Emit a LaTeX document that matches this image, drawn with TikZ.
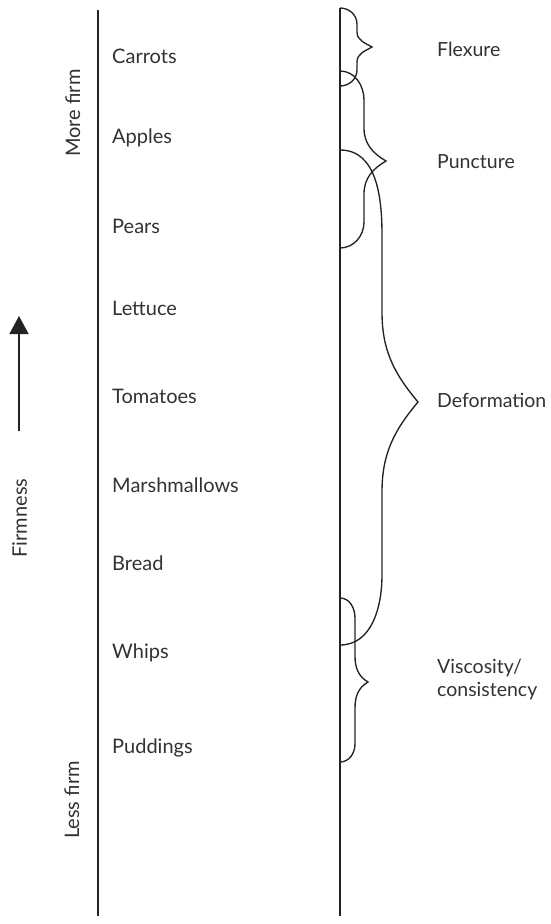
\documentclass[tikz,border=0pt]{standalone}
\usepackage{fontspec}
\setmainfont{Lato}
\usepackage{tikz}
\usetikzlibrary{arrows.meta}
\definecolor{inkgrey}{RGB}{35,35,35}
\definecolor{textgrey}{RGB}{50,50,50}

\begin{document}
\begin{tikzpicture}[
    x=1pt, y=-1pt,
    axis/.style={draw=inkgrey, line width=1.5pt},
    curly/.style={draw=inkgrey, line width=1.35pt},
    food/.style={anchor=base west, inner sep=0pt, text=textgrey, font=\fontsize{20}{23}\selectfont},
    test/.style={anchor=base west, inner sep=0pt, text=textgrey, align=left, font=\fontsize{19.5}{23}\selectfont},
    side/.style={anchor=base, rotate=90, inner sep=0pt, text=textgrey, font=\fontsize{20}{23}\selectfont},
    arr/.style={-{Triangle[length=18pt, width=19pt]}, draw=inkgrey, line width=1.5pt}
]
    \useasboundingbox (0,0) rectangle (550,924);

    % Two vertical scales
    \coordinate (lt) at (98,10);
    \coordinate (lb) at (98,916);
    \coordinate (rt) at (340,8);
    \coordinate (rb) at (340,916);
    \draw[axis] (lt) -- (lb);
    \draw[axis] (rt) -- (rb);

    % Foods, firm at the top
    \node[food] (carrots) at (112,63) {Carrots};
    \node[food] (apples) at (112,143) {Apples};
    \node[food] (pears) at (112,233) {Pears};
    \node[food] (lettuce) at (112,315) {Lettuce};
    \node[food] (tomatoes) at (112,403) {Tomatoes};
    \node[food] (marsh) at (112,492) {Marshmallows};
    \node[food] (bread) at (112,570) {Bread};
    \node[food] (whips) at (112,658) {Whips};
    \node[food] (puddings) at (112,753) {Puddings};

    % Firmness direction
    \node[side] (more) at (80,113) {More firm};
    \node[side] (less) at (79,800) {Less firm};
    \node[side] (firm) at (27,518) {Firmness};
    \coordinate (abot) at (19,431);
    \coordinate (atop) at (19,316);
    \draw[arr] (abot) -- (atop);

    % Braces of the tests
    \draw[curly] (340,8) to[out=0,in=90] (357,24) -- (357,32)
        to[out=-90,in=150] (372,47) to[out=-150,in=90] (357,62) -- (357,70)
        to[out=-90,in=0] (340,86);
    \draw[curly] (340,71) to[out=0,in=90] (364,100) -- (364,128)
        to[out=-90,in=150] (386,161) to[out=-150,in=90] (364,194) -- (364,222)
        to[out=-90,in=0] (340,248);
    \draw[curly] (340,150) to[out=0,in=90] (382,235) -- (382,312)
        to[out=-90,in=130] (418,402) to[out=-130,in=90] (382,492) -- (382,575)
        to[out=-90,in=0] (340,645);
    \draw[curly] (340,598) to[out=0,in=90] (355,618) -- (355,656)
        to[out=-90,in=150] (368,682) to[out=-150,in=90] (355,708) -- (355,744)
        to[out=-90,in=0] (340,762);

    % Test names
    \node[test] (flex) at (437,56) {Flexure};
    \node[test] (punct) at (437,168) {Puncture};
    \node[test] (deform) at (437,407) {Deformation};
    \node[test, anchor=west] (visc) at (437,679) {Viscosity/\\consistency};
\end{tikzpicture}
\end{document}
